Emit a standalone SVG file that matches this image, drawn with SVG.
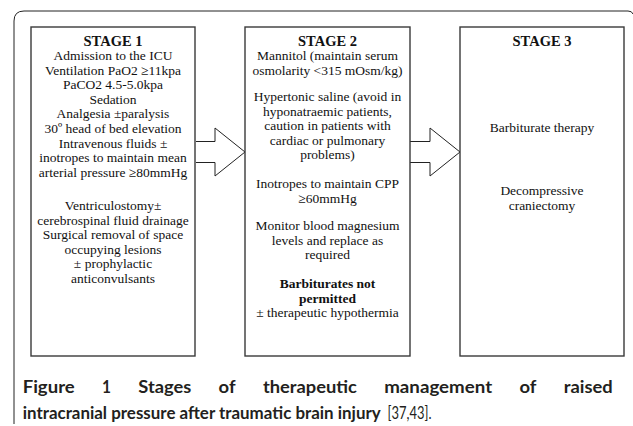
<svg xmlns="http://www.w3.org/2000/svg" width="633" height="426" viewBox="0 0 633 426">
<style>
.box{fill:#fff;stroke:#3a3a3a;stroke-width:1.4}
.t{font-family:"Liberation Serif","Times New Roman",serif;font-size:13.5px;fill:#111;text-anchor:middle}
.b{font-weight:bold}
.h{font-family:"Liberation Serif","Times New Roman",serif;font-size:14.5px;font-weight:bold;fill:#111;text-anchor:middle}
.arrow{fill:#fff;stroke:#222;stroke-width:1}
.cap{font-family:Lato,"Liberation Sans",Arial,sans-serif;font-size:16.5px;fill:#231f20}
</style>
<rect width="633" height="426" fill="#fff"/>
<path d="M14,424 L14,21 Q14,11 24,11 L628,11 Q632,11 633,14" fill="none" stroke="#222" stroke-width="1"/>
<g id="connectors">
<path class="arrow" d="M196,141.5 L215,141.5 L215,128 L245,152 L215,176 L215,162.5 L196,162.5"/>
<path class="arrow" d="M410,141.5 L430,141.5 L430,128 L460,152 L430,176 L430,162.5 L410,162.5"/>
</g>
<g id="stage1">
<rect class="box" x="31" y="27" width="164" height="329"/>
<text class="h" x="113" y="45.5">STAGE 1</text>
<text class="t" x="113" y="60">Admission to the ICU</text>
<text class="t" x="113" y="74.6">Ventilation PaO2 ≥11kpa</text>
<text class="t" x="113" y="89.2">PaCO2 4.5-5.0kpa</text>
<text class="t" x="113" y="103.8">Sedation</text>
<text class="t" x="113" y="118.4">Analgesia ±paralysis</text>
<text class="t" x="113" y="133">30º head of bed elevation</text>
<text class="t" x="113" y="147.6">Intravenous fluids ±</text>
<text class="t" x="113" y="162.2">inotropes to maintain mean</text>
<text class="t" x="113" y="176.8">arterial pressure ≥80mmHg</text>
<text class="t" x="113" y="210">Ventriculostomy±</text>
<text class="t" x="113" y="224.6">cerebrospinal fluid drainage</text>
<text class="t" x="113" y="239.2">Surgical removal of space</text>
<text class="t" x="113" y="253.8">occupying lesions</text>
<text class="t" x="113" y="268.4">± prophylactic</text>
<text class="t" x="113" y="283">anticonvulsants</text>
</g>
<g id="stage2">
<rect class="box" x="245" y="27" width="165" height="329"/>
<text class="h" x="327.5" y="45.5">STAGE 2</text>
<text class="t" x="327.5" y="60">Mannitol (maintain serum</text>
<text class="t" x="327.5" y="74.6">osmolarity &lt;315 mOsm/kg)</text>
<text class="t" x="327.5" y="101">Hypertonic saline (avoid in</text>
<text class="t" x="327.5" y="115.6">hyponatraemic patients,</text>
<text class="t" x="327.5" y="130.2">caution in patients with</text>
<text class="t" x="327.5" y="144.8">cardiac or pulmonary</text>
<text class="t" x="327.5" y="159.4">problems)</text>
<text class="t" x="327.5" y="188">Inotropes to maintain CPP</text>
<text class="t" x="327.5" y="202.6">≥60mmHg</text>
<text class="t" x="327.5" y="230">Monitor blood magnesium</text>
<text class="t" x="327.5" y="244.6">levels and replace as</text>
<text class="t" x="327.5" y="259.2">required</text>
<text class="t b" x="327.5" y="288">Barbiturates not</text>
<text class="t b" x="327.5" y="302.6">permitted</text>
<text class="t" x="327.5" y="317.2">± therapeutic hypothermia</text>
</g>
<g id="stage3">
<rect class="box" x="460" y="27" width="164" height="329"/>
<text class="h" x="542" y="45.5">STAGE 3</text>
<text class="t" x="542" y="132">Barbiturate therapy</text>
<text class="t" x="542" y="195">Decompressive</text>
<text class="t" x="542" y="209.6">craniectomy</text>
</g>
<g id="caption">
<text class="cap" y="392.5" font-weight="bold" font-size="17"><tspan x="22.7" textLength="52" lengthAdjust="spacingAndGlyphs">Figure</tspan><tspan x="102" textLength="9" lengthAdjust="spacingAndGlyphs">1</tspan><tspan x="138.3" textLength="53" lengthAdjust="spacingAndGlyphs">Stages</tspan><tspan x="218.6" textLength="17" lengthAdjust="spacingAndGlyphs">of</tspan><tspan x="262.9" textLength="94" lengthAdjust="spacingAndGlyphs">therapeutic</tspan><tspan x="384.2" textLength="108" lengthAdjust="spacingAndGlyphs">management</tspan><tspan x="519.5" textLength="17" lengthAdjust="spacingAndGlyphs">of</tspan><tspan x="563.8" textLength="49" lengthAdjust="spacingAndGlyphs">raised</tspan></text>
<text class="cap" y="418.5"><tspan x="22.7" font-weight="bold" textLength="358" lengthAdjust="spacingAndGlyphs">intracranial pressure after traumatic brain injury</tspan><tspan x="387.5" textLength="44" lengthAdjust="spacingAndGlyphs">[37,43].</tspan></text>
</g>
</svg>
